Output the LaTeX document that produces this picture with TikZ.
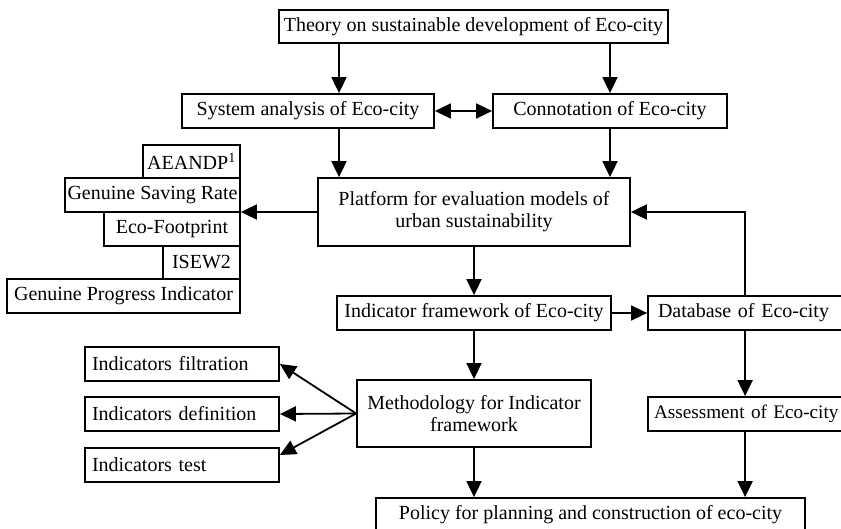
\documentclass[tikz,border=0pt]{standalone}
\usepackage{fontspec}
\setmainfont{Liberation Serif}
\usetikzlibrary{arrows.meta,calc}
\begin{document}
\begin{tikzpicture}[x=1pt,y=-1pt,
  box/.style={draw,line width=1.8pt,inner sep=0pt,align=center,font=\fontsize{20}{22}\selectfont},
  lbox/.style={box,align=left,inner xsep=7pt},
  arr/.style={line width=1.8pt,-{Triangle[length=16pt,width=15pt]}},
  darr/.style={line width=1.8pt,{Triangle[length=16pt,width=15pt]}-{Triangle[length=16pt,width=15pt]}}]
\useasboundingbox (0,0) rectangle (841,529);
% main column
\node[box,minimum width=389pt,minimum height=33pt] (theory) at (473.5,26.5) {Theory on sustainable development of Eco-city};
\node[box,minimum width=252pt,minimum height=34pt] (system) at (308,111) {System analysis of Eco-city};
\node[box,minimum width=234pt,minimum height=34pt] (conn) at (610,111) {Connotation of Eco-city};
\node[box,minimum width=312pt,minimum height=68pt] (platform) at (474,212) {Platform for evaluation models of\\urban sustainability};
\node[box,minimum width=274pt,minimum height=34pt] (indfw) at (474,313) {Indicator framework of Eco-city};
\node[box,minimum width=234pt,minimum height=67pt] (method) at (474,413.5) {Methodology for Indicator\\framework};
\node[box,minimum width=429pt,minimum height=34pt] (policy) at (590.5,515) {Policy for planning and construction of eco-city};
% right column (cut at the right edge)
\node[lbox,inner xsep=10pt,text width=202pt,minimum height=34pt] (database) at (759,313) {Database of Eco-city};
\node[lbox,inner xsep=6pt,text width=210pt,minimum height=34pt,font=\fontsize{19.2}{22}\selectfont] (assess) at (759,414) {Assessment of Eco-city};
% left stack
\node[box,minimum width=97pt,minimum height=33pt] (aeandp) at (191.5,161.5) {AEANDP\textsuperscript{1}};
\node[box,minimum width=175pt,minimum height=34pt] (gsr) at (152.5,195) {Genuine Saving Rate};
\node[box,minimum width=136pt,minimum height=34pt] (ecof) at (172,229) {Eco-Footprint};
\node[box,minimum width=77pt,minimum height=33pt] (isew) at (201.5,262.5) {ISEW2};
\node[box,minimum width=233pt,minimum height=34pt] (gpi) at (123.5,296) {Genuine Progress Indicator};
% indicators
\node[lbox,text width=180pt,minimum height=34pt] (filt) at (182,364) {Indicators filtration};
\node[lbox,text width=180pt,minimum height=34pt] (defn) at (182,414) {Indicators definition};
\node[lbox,text width=180pt,minimum height=34pt] (test) at (182,465) {Indicators test};
% helper coordinates
\coordinate (sa) at ($(system.north)+(31,0)$);
\coordinate (sb) at ($(system.south)+(31,0)$);
\coordinate (dn) at ($(database.north west)+(98,0)$);
\coordinate (ds) at ($(database.south west)+(98,0)$);
\coordinate (as) at ($(assess.south west)+(98,0)$);
% connectors
\draw[arr] (sa |- theory.south) -- (sa);
\draw[arr] (conn.north |- theory.south) -- (conn.north);
\draw[darr] (system.east) -- (conn.west);
\draw[arr] (sb) -- (sb |- platform.north);
\draw[arr] (conn.south) -- (conn.south |- platform.north);
\draw[arr] (platform.west) -- (platform.west -| gsr.east);
\draw[arr] (platform.south) -- (platform.south |- indfw.north);
\draw[arr] (indfw.east) -- (database.west);
\draw[arr] (dn) |- (platform.east);
\draw[arr] (indfw.south) -- (indfw.south |- method.north);
\draw[arr] (ds) -- (ds |- assess.north);
\draw[arr] (method.south) -- (method.south |- policy.north);
\draw[arr] (as) -- (as |- policy.north);
\draw[arr] (method.west) -- (filt.east);
\draw[arr] (method.west) -- (defn.east);
\draw[arr] (method.west) -- ($(test.east)+(0,-10)$);
\end{tikzpicture}
\end{document}
